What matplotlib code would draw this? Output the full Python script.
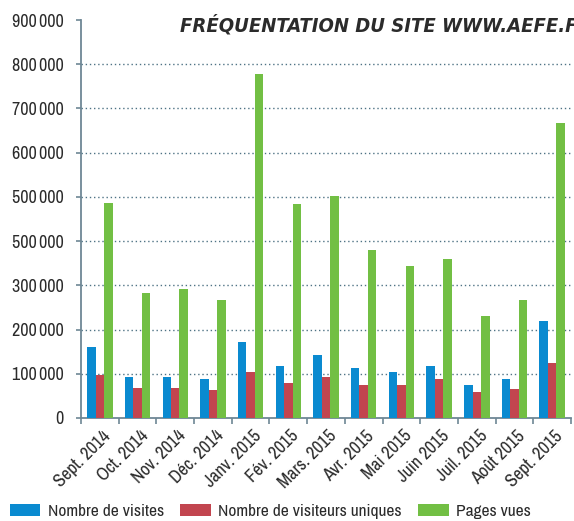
import numpy as np
import matplotlib
matplotlib.use('Agg')
import matplotlib.pyplot as plt
import matplotlib.transforms as mtransforms
from matplotlib.patches import Patch

# Monthly traffic of www.aefe.fr
months = ['Sept. 2014', 'Oct. 2014', 'Nov. 2014', 'Déc. 2014', 'Janv. 2015', 'Fév. 2015',
          'Mars. 2015', 'Avr. 2015', 'Mai 2015', 'Juin 2015', 'Juil. 2015', 'Août 2015', 'Sept. 2015']
visites = [160000, 92000, 92000, 88000, 172000, 117000, 142000, 113000, 104000, 117000, 74000, 88000, 219000]
visiteursUniques = [97000, 67000, 67000, 63000, 103000, 79000, 92000, 74000, 74000, 88000, 58000, 65000, 124000]
pagesVues = [487000, 283000, 292000, 267000, 779000, 485000, 503000, 380000, 344000, 360000, 231000, 267000, 666000]

yTicks = [0, 100000, 200000, 300000, 400000, 500000, 600000, 700000, 800000, 900000]
yTickLabels = ['0', '100\u2009000', '200\u2009000', '300\u2009000', '500\u2009000', '500\u2009000',
               '600\u2009000', '700\u2009000', '800\u2009000', '900\u2009000']

seriesNames = ['Nombre de visites', 'Nombre de visiteurs uniques', 'Pages vues']
colours = ['#0a8ad0', '#c2454f', '#72bf44']
axisColour = '#6e8795'
textColour = '#2b2b2b'

narrow = ['Archivo Narrow', 'DejaVu Sans']

fig = plt.figure(figsize=(5.74, 5.21), dpi=100)
ax = fig.add_axes([0.1411, 0.1977, 0.8537, 0.7639])

x = np.arange(len(months))
w = 0.225
for i, (vals, col) in enumerate(zip([visites, visiteursUniques, pagesVues], colours)):
    ax.bar(x + (i - 1) * w, vals, width=w, color=col, zorder=3)

ax.set_xlim(-0.5, len(months) - 0.5)
ax.set_ylim(0, 900000)

# Y axis
ax.set_yticks(yTicks)
ax.set_yticklabels(yTickLabels, family=narrow, fontstretch='condensed', fontsize=13, color=textColour)
ax.tick_params(axis='y', direction='out', length=3.6, width=1.2, color=axisColour, pad=9)

# X axis: ticks between groups, labels at the centres
ax.set_xticks(np.arange(len(months) + 1) - 0.5)
ax.set_xticklabels([])
ax.set_xticks(x, minor=True)
ax.set_xticklabels(months, minor=True, rotation=45, ha='right', va='center', rotation_mode='anchor',
                   family=narrow, fontstretch='condensed', fontsize=13, color=textColour)
ax.tick_params(axis='x', which='major', direction='out', length=4, width=1.2, color=axisColour)
ax.tick_params(axis='x', which='minor', length=0, pad=11)
shift = mtransforms.ScaledTranslation(8 / 100, 0, fig.dpi_scale_trans)
for lab in ax.get_xticklabels(minor=True):
    lab.set_transform(lab.get_transform() + shift)

for side in ['top', 'right']:
    ax.spines[side].set_visible(False)
for side in ['left', 'bottom']:
    ax.spines[side].set_color(axisColour)
    ax.spines[side].set_linewidth(1.3)

# Dotted gridlines, none at the top
ax.yaxis.grid(True, linestyle=(0, (1, 2)), color='#4f7385', linewidth=1.0, zorder=0)
ax.get_ygridlines()[-1].set_visible(False)
ax.get_ygridlines()[0].set_visible(False)
ax.set_axisbelow(True)

fig.text(0.313, 0.952, 'FRÉQUENTATION DU SITE WWW.AEFE.FR', family='DejaVu Sans', fontstretch='condensed',
         fontsize=14.5, fontweight='bold', fontstyle='italic', color=textColour, va='center', ha='left')

handles = [Patch(facecolor=c, edgecolor='none') for c in colours]
fig.legend(handles, seriesNames, loc='lower left', bbox_to_anchor=(0.0174, 0.004), ncol=3,
           frameon=False, prop={'family': narrow, 'stretch': 'condensed', 'size': 12.5},
           handlelength=1.75, handleheight=0.72, handletextpad=0.44, columnspacing=0.94,
           borderpad=0, borderaxespad=0, labelcolor=textColour)

plt.savefig('out.png', dpi=100)
plt.close()
